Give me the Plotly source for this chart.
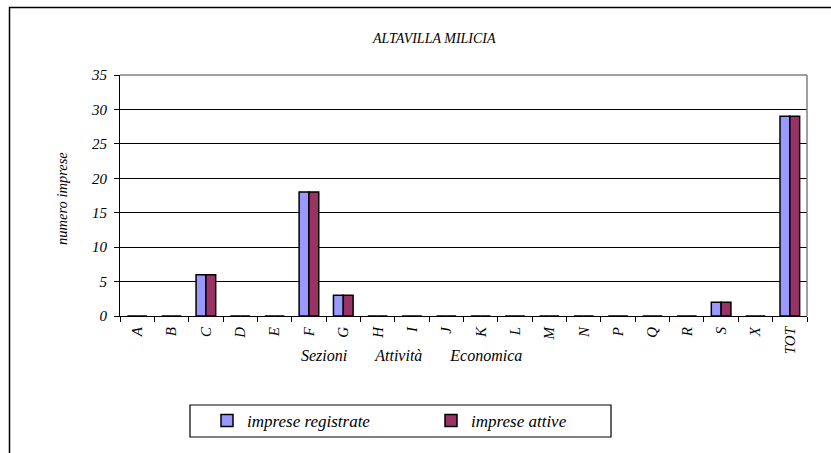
import plotly.graph_objects as go

categories = ["A", "B", "C", "D", "E", "F", "G", "H", "I", "J", "K", "L",
              "M", "N", "P", "Q", "R", "S", "X", "TOT"]
registrate = [0, 0, 6, 0, 0, 18, 3, 0, 0, 0, 0, 0, 0, 0, 0, 0, 0, 2, 0, 29]
attive = [0, 0, 6, 0, 0, 18, 3, 0, 0, 0, 0, 0, 0, 0, 0, 0, 0, 2, 0, 29]
y_ticks = [0, 5, 10, 15, 20, 25, 30, 35]

FONT = "Liberation Serif, Times New Roman, serif"
W, H = 831, 453
L, R, T, B = 120, 24, 75, 137
pw, ph = W - L - R, H - T - B

def px(x):
    return (x - L) / pw

def py(y):
    return (H - B - y) / ph

fig = go.Figure()
fig.add_trace(go.Bar(x=categories, y=registrate, name="imprese registrate",
                     marker=dict(color="#9999FF", line=dict(color="black", width=1.5))))
fig.add_trace(go.Bar(x=categories, y=attive, name="imprese attive",
                     marker=dict(color="#993366", line=dict(color="black", width=1.5))))

fig.update_layout(
    width=W, height=H,
    margin=dict(l=L, r=R, t=T, b=B, autoexpand=False),
    paper_bgcolor="white", plot_bgcolor="white",
    barmode="group", bargap=0.4286, bargroupgap=0,
    font=dict(family=FONT, color="black"),
    showlegend=True,
    legend=dict(orientation="h", x=px(207), y=py(421), xanchor="left", yanchor="middle",
                borderwidth=0, bgcolor="rgba(0,0,0,0)",
                font=dict(family=FONT, size=17, style="italic"),
                entrywidth=179, itemwidth=30),
    xaxis=dict(type="category", showline=True, linecolor="black", linewidth=1,
               ticks="outside", ticklen=5, tickcolor="black", tickson="boundaries",
               tickangle=-90, tickfont=dict(family=FONT, size=15, style="italic"),
               ticklabelstandoff=4,
               showgrid=False, range=[-0.5, len(categories) - 0.5], mirror=False),
    yaxis=dict(range=[0, 35], tickvals=y_ticks, showline=True, linecolor="black",
               linewidth=1, ticks="outside", ticklen=5, tickcolor="black",
               tickfont=dict(family=FONT, size=15, style="italic"),
               ticklabelstandoff=4,
               showgrid=True, gridcolor="black", gridwidth=1, zeroline=False),
)

# plot-area border (gray top and right)
fig.add_shape(type="line", xref="paper", yref="paper", x0=0, x1=1, y0=1, y1=1,
              line=dict(color="#808080", width=1.5))
fig.add_shape(type="line", xref="paper", yref="paper", x0=1, x1=1, y0=0, y1=1,
              line=dict(color="#808080", width=1.5))
# chart outer border
fig.add_shape(type="rect", xref="paper", yref="paper", x0=px(9.5), x1=px(900),
              y0=py(520), y1=py(7.5), line=dict(color="black", width=1.5), layer="below")
# legend box
fig.add_shape(type="rect", xref="paper", yref="paper", x0=px(190), x1=px(611),
              y0=py(437), y1=py(405), line=dict(color="black", width=1.2),
              fillcolor="white", layer="below")

fig.add_annotation(text="ALTAVILLA MILICIA", xref="paper", yref="paper",
                   x=px(434), y=py(38), showarrow=False, xanchor="center", yanchor="middle",
                   font=dict(family=FONT, size=14, style="italic"))
fig.add_annotation(text="numero imprese", xref="paper", yref="paper",
                   x=px(62), y=py(199), showarrow=False, textangle=-90,
                   xanchor="center", yanchor="middle",
                   font=dict(family=FONT, size=14.5, style="italic"))
fig.add_annotation(text="Sezioni" + "&nbsp;" * 7 + "Attività" + "&nbsp;" * 7 + "Economica",
                   xref="paper", yref="paper", x=px(411), y=py(355), showarrow=False,
                   xanchor="center", yanchor="middle",
                   font=dict(family=FONT, size=16, style="italic"))

fig.write_html("out.html", config={"displayModeBar": False},
               post_script="document.body.style.margin='0px';")
